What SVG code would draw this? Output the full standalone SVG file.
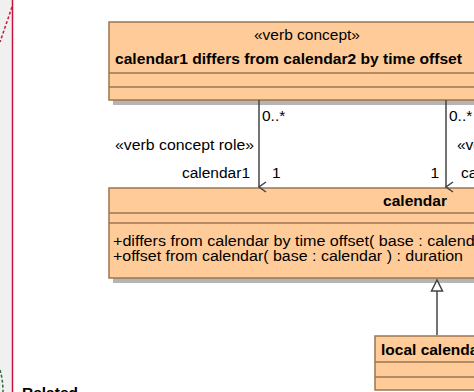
<svg xmlns="http://www.w3.org/2000/svg" width="474" height="392" viewBox="0 0 474 392">
<style>
.box{fill:#ffcc99;stroke:#9b7650;stroke-width:1.5}
.sep{stroke:#9b7650;stroke-width:1.5;fill:none}
.shadow{fill:#b4b4b4}
.t{font-family:"Liberation Sans",Arial,sans-serif;font-size:15.5px;fill:#000}
.op{font-size:14px}
.b{font-weight:bold}
.conn{stroke:#444;stroke-width:1.5;fill:none}
</style>
<defs>
<marker id="open" markerWidth="12" markerHeight="12" refX="6" refY="11" orient="auto" markerUnits="userSpaceOnUse" viewBox="0 0 12 12">
<path d="M1,4 L6,11 L11,4" fill="none" stroke="#444" stroke-width="1.5"/>
</marker>
</defs>
<rect width="474" height="392" fill="#fff"/>
<g id="sidebar">
<rect x="0" y="0" width="12" height="392" fill="#f0f0f0"/>
<line x1="12.5" y1="0" x2="12.5" y2="392" stroke="#c8143c" stroke-width="1.5"/>
<line x1="12" y1="7" x2="0" y2="42" stroke="#c8143c" stroke-width="1.5" stroke-dasharray="3,2"/>
<path d="M0,370 Q3,380 3,392" stroke="#2e6b3a" stroke-width="1.5" fill="none" stroke-dasharray="3,2"/>
<text class="t b" x="22" y="398">Related</text>
</g>
<g id="verb-concept">
<rect class="shadow" x="113" y="100" width="370" height="5"/>
<rect class="box" x="109" y="22" width="380" height="78"/>
<line class="sep" x1="109" y1="73" x2="489" y2="73"/>
<line class="sep" x1="109" y1="87" x2="489" y2="87"/>
<text class="t" x="307" y="40" text-anchor="middle">«verb concept»</text>
<text class="t b" x="115" y="64" textLength="347" lengthAdjust="spacingAndGlyphs">calendar1 differs from calendar2 by time offset</text>
</g>
<g id="calendar">
<rect class="shadow" x="113" y="278" width="370" height="5"/>
<rect class="box" x="109" y="188" width="380" height="90"/>
<line class="sep" x1="109" y1="213" x2="489" y2="213"/>
<line class="sep" x1="109" y1="223" x2="489" y2="223"/>
<text class="t b" x="383" y="206" textLength="64" lengthAdjust="spacingAndGlyphs">calendar</text>
<text class="t op" x="113" y="246" textLength="376" lengthAdjust="spacingAndGlyphs">+differs from calendar by time offset( base : calendar</text>
<text class="t op" x="113" y="261" textLength="350" lengthAdjust="spacingAndGlyphs">+offset from calendar( base : calendar ) : duration</text>
</g>
<g id="local-calendar">
<rect class="box" x="375" y="336" width="130" height="54"/>
<line class="sep" x1="375" y1="362" x2="505" y2="362"/>
<line class="sep" x1="375" y1="377" x2="505" y2="377"/>
<text class="t b" x="381" y="355">local calendar</text>
</g>
<g id="connectors">
<line class="conn" x1="259" y1="100" x2="259" y2="187" marker-end="url(#open)"/>
<line class="conn" x1="446" y1="100" x2="446" y2="187" marker-end="url(#open)"/>
<line class="conn" x1="437" y1="335" x2="437" y2="291"/>
<path d="M437,280 L431.5,291 L442.5,291 Z" fill="#fff" stroke="#444" stroke-width="1.5"/>
<text class="t" x="262" y="121">0..*</text>
<text class="t" x="254" y="150" text-anchor="end" textLength="139" lengthAdjust="spacingAndGlyphs">«verb concept role»</text>
<text class="t" x="250" y="178" text-anchor="end">calendar1</text>
<text class="t" x="272" y="178">1</text>
<text class="t" x="449" y="121">0..*</text>
<text class="t" x="457" y="150">«verb concept role»</text>
<text class="t" x="439" y="178" text-anchor="end">1</text>
<text class="t" x="461" y="178">calendar2</text>
</g>
</svg>
